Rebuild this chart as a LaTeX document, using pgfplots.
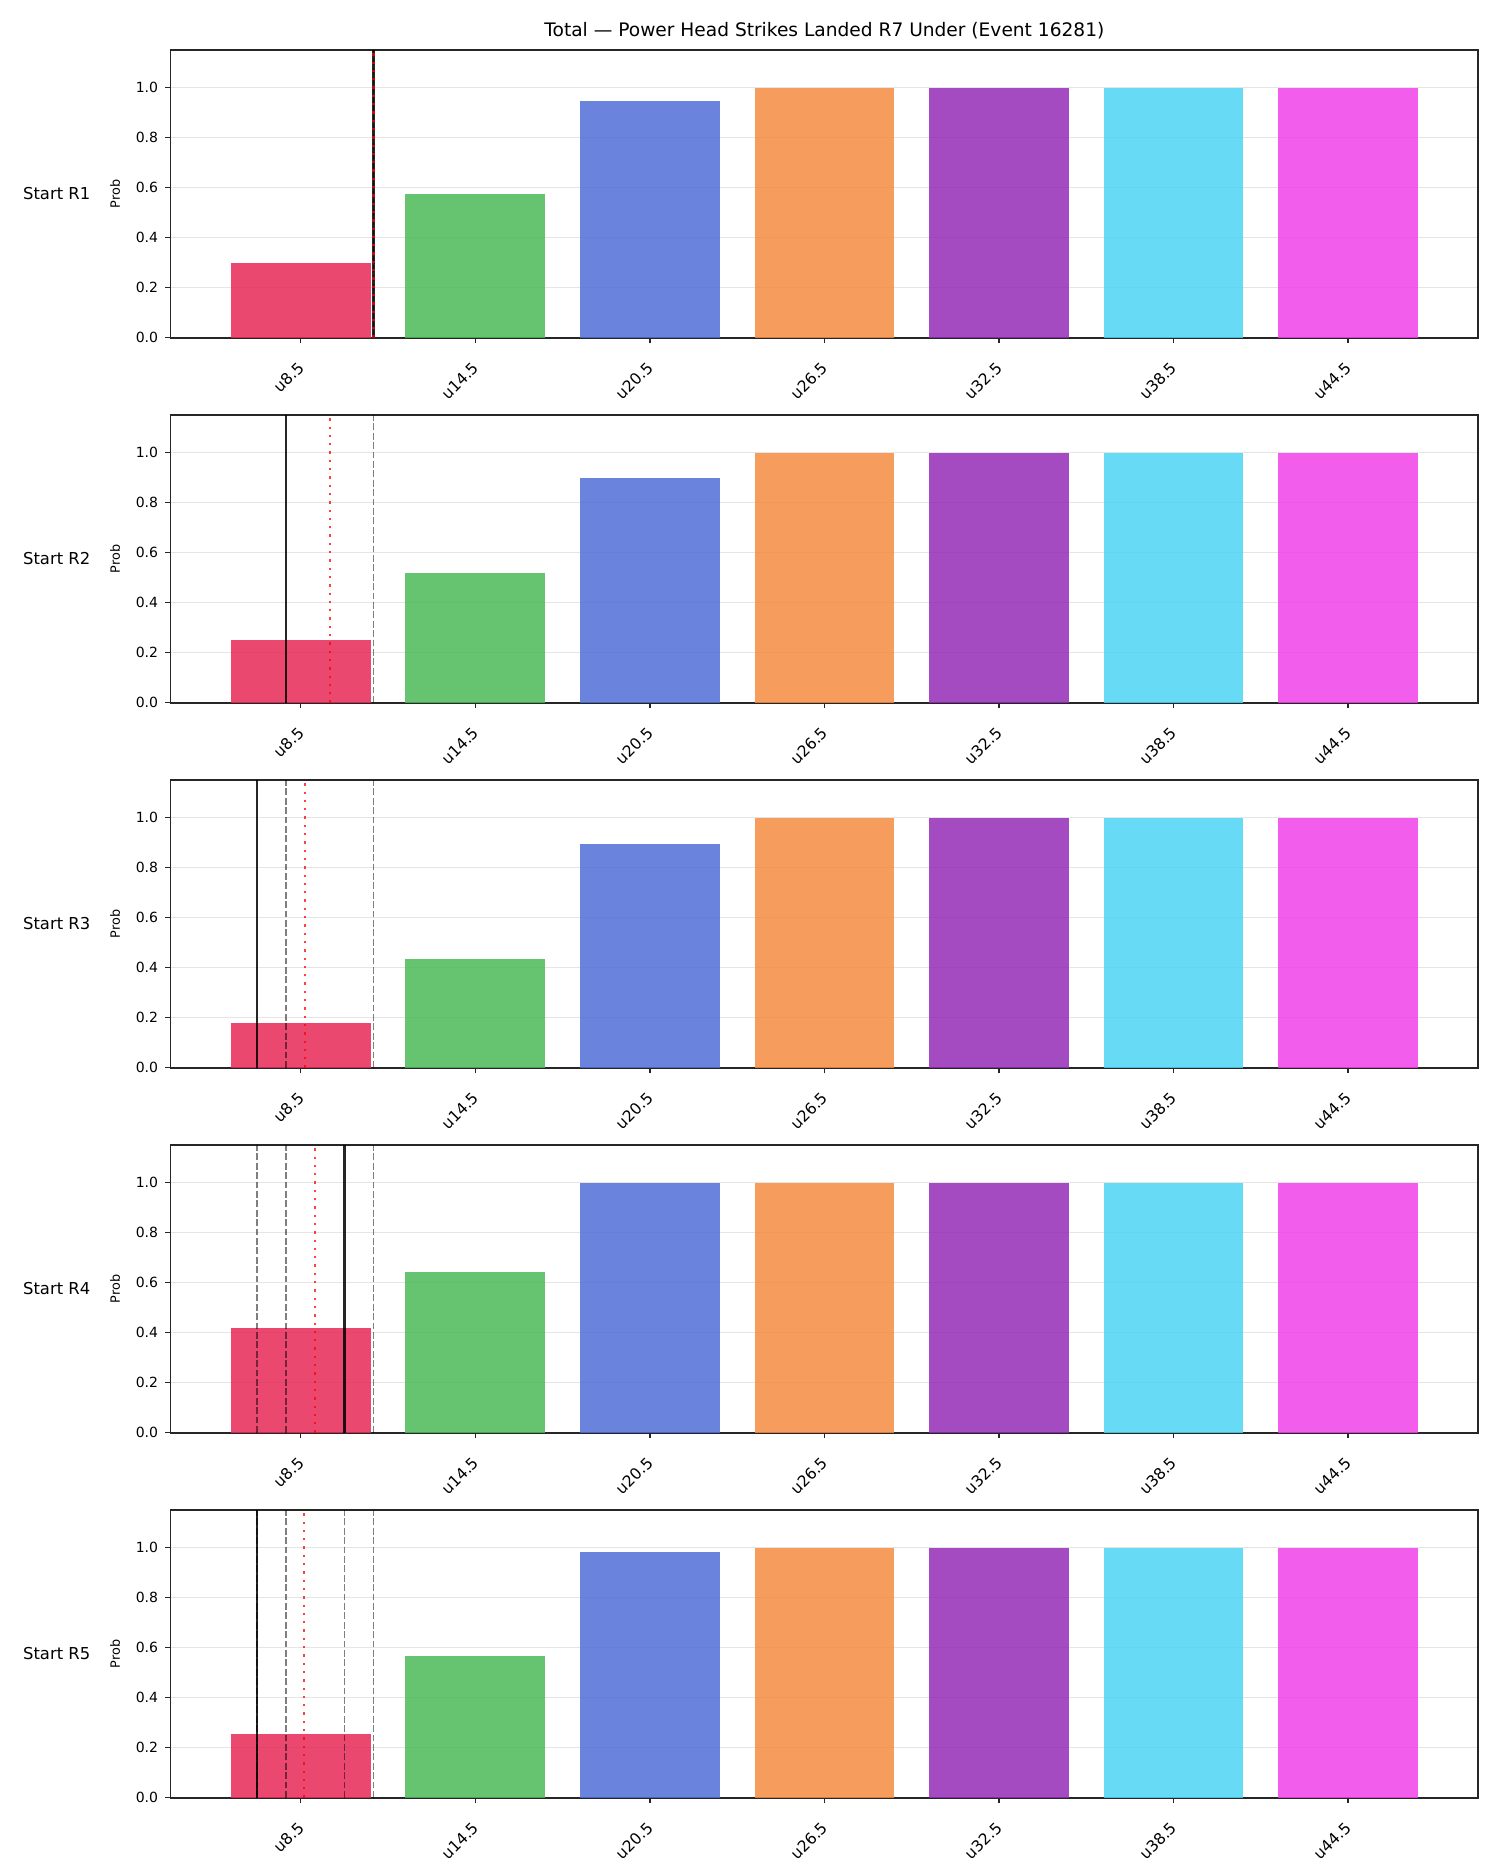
\documentclass[border=0pt]{standalone}
\usepackage{fontspec}
\setmainfont{DejaVu Sans}
\usepackage{pgfplots}
\pgfplotsset{compat=1.18}

% bar colours (drawn at 85% opacity)
\definecolor{cR}{RGB}{232,40,87}
\definecolor{cG}{RGB}{75,186,87}
\definecolor{cB}{RGB}{80,110,216}
\definecolor{cO}{RGB}{245,139,63}
\definecolor{cP}{RGB}{149,43,182}
\definecolor{cC}{RGB}{76,213,244}
\definecolor{cM}{RGB}{240,65,232}
\definecolor{axisgray}{RGB}{38,38,38}

\pgfplotsset{
  panel/.style={
    scale only axis, width=653.7pt, height=143.85pt,
    xmin=-0.745, xmax=6.745, ymin=0, ymax=1.15,
    xtick={0,1,2,3,4,5,6},
    xticklabels={u8.5,u14.5,u20.5,u26.5,u32.5,u38.5,u44.5},
    ytick={0,0.2,0.4,0.6,0.8,1.0},
    /pgf/number format/assume math mode=true,
    yticklabel style={/pgf/number format/fixed,/pgf/number format/fixed zerofill,
      /pgf/number format/precision=1, font=\fontsize{7}{8}\selectfont},
    xticklabel style={rotate=45, anchor=north east, font=\fontsize{7.8}{9}\selectfont,
      inner sep=1pt, xshift=-6.4pt, yshift=-3.8pt},
    tick align=outside, tick pos=left, major tick length=2.8pt,
    tick style={line width=0.7pt, draw=axisgray},
    axis line style={line width=0.8pt, draw=axisgray},
    ymajorgrids, grid style={draw=black!10, line width=0.45pt},
    anchor=north west,
  },
  bar/.style={ybar, bar width=0.8, bar shift=0pt, draw=none, fill=#1, fill opacity=0.85},
  solidv/.style={draw=black, draw opacity=0.85, line width=1.2pt},
  dashv/.style={draw=black, draw opacity=0.5, line width=0.8pt, dash pattern=on 3.4pt off 1.3pt},
  dotv/.style={draw=red, draw opacity=0.75, line width=1.15pt, dash pattern=on 1.15pt off 3pt},
}

% seven bars of one panel
\newcommand\bars[7]{%
  \addplot[bar=cR] coordinates {(0,#1)};
  \addplot[bar=cG] coordinates {(1,#2)};
  \addplot[bar=cB] coordinates {(2,#3)};
  \addplot[bar=cO] coordinates {(3,#4)};
  \addplot[bar=cP] coordinates {(4,#5)};
  \addplot[bar=cC] coordinates {(5,#6)};
  \addplot[bar=cM] coordinates {(6,#7)};
}
% vertical marker at position x (in category units)
\newcommand\marker[2]{\addplot[#1] coordinates {(#2,0) (#2,1.15)};}

\begin{document}
\begin{tikzpicture}
\path[use as bounding box] (-85.35pt,25pt) rectangle (664.65pt,-912.5pt);

% Start R1
\begin{axis}[panel, name=p1, at={(0,0)}]
\bars{0.30}{0.576}{0.948}{1.0}{1.0}{1.0}{1.0}
\marker{dashv}{0.4167}
\marker{solidv}{0.4167}
\marker{dotv}{0.4167}
\end{axis}

% Start R2
\begin{axis}[panel, name=p2, at={(0,-182.5pt)}]
\bars{0.252}{0.519}{0.897}{1.0}{1.0}{1.0}{1.0}
\marker{dashv}{0.4167}
\marker{solidv}{-0.0833}
\marker{dotv}{0.1667}
\end{axis}

% Start R3
\begin{axis}[panel, name=p3, at={(0,-365pt)}]
\bars{0.179}{0.435}{0.893}{1.0}{1.0}{1.0}{1.0}
\marker{dashv}{-0.0833}
\marker{dashv}{0.4167}
\marker{solidv}{-0.25}
\marker{dotv}{0.025}
\end{axis}

% Start R4
\begin{axis}[panel, name=p4, at={(0,-547.5pt)}]
\bars{0.419}{0.644}{1.0}{1.0}{1.0}{1.0}{1.0}
\marker{dashv}{-0.25}
\marker{dashv}{-0.0833}
\marker{dashv}{0.4167}
\marker{solidv}{0.25}
\marker{dotv}{0.0833}
\end{axis}

% Start R5
\begin{axis}[panel, name=p5, at={(0,-730pt)}]
\bars{0.255}{0.567}{0.981}{1.0}{1.0}{1.0}{1.0}
\marker{dashv}{-0.25}
\marker{dashv}{-0.0833}
\marker{dashv}{0.25}
\marker{dashv}{0.4167}
\marker{solidv}{-0.25}
\marker{dotv}{0.0167}
\end{axis}

\node[font=\fontsize{9.3}{11}\selectfont] at ([yshift=9.5pt]p1.north) {Total — Power Head Strikes Landed R7 Under (Event 16281)};

\foreach \k in {1,...,5}{
  \node[font=\fontsize{8.2}{10}\selectfont] at ([xshift=-57pt]p\k.west) {Start R\k};
  \node[font=\fontsize{6.4}{8}\selectfont, rotate=90] at ([xshift=-27.8pt]p\k.west) {Prob};
}
\end{tikzpicture}
\end{document}
